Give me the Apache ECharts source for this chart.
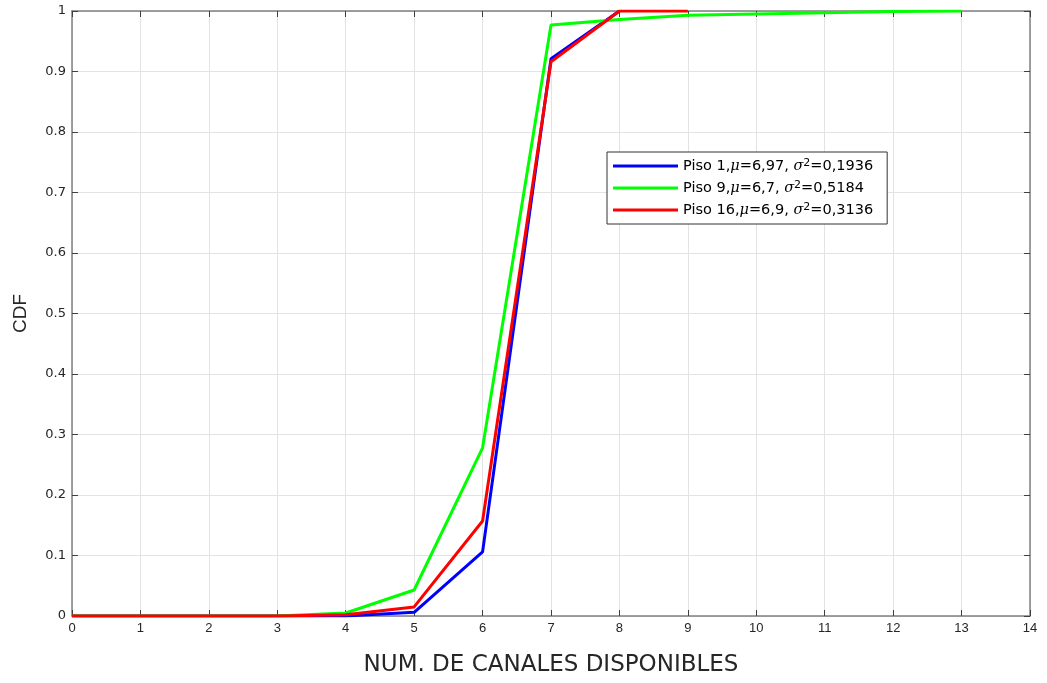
<!DOCTYPE html>
<html>
<head>
<meta charset="utf-8">
<script src="https://cdn.jsdelivr.net/npm/echarts@6/dist/echarts.min.js"></script>
<style>
html, body { margin: 0; padding: 0; background: #fff; }
#cdf { width: 1047px; height: 683px; }
</style>
</head>
<body>
<div id="cdf"></div>
<script>
// canales disponibles
var canales = [0, 1, 2, 3, 4, 5, 6, 7, 8, 9, 10, 11, 12, 13];
var piso1 = [0, 0, 0, 0, 0, 0.006, 0.106, 0.921, 1.0];
var piso9 = [0, 0, 0, 0, 0.005, 0.043, 0.278, 0.977, 0.986, 0.993, 0.995, 0.997, 0.999, 1.0];
var piso16 = [0, 0, 0, 0, 0.002, 0.015, 0.157, 0.916, 1.0, 1.0];
var nombres = ['Piso 1', 'Piso 9', 'Piso 16'];
var mus = ['6,97', '6,7', '6,9'];
var sigmas = ['0,1936', '0,5184', '0,3136'];
var colores = ['#0000ff', '#00ff00', '#ff0000'];

function pares(vals) {
    var res = [];
    for (var i = 0; i < vals.length; i++) {
        res.push([canales[i], vals[i]]);
    }
    return res;
}

var serieVals = [piso1, piso9, piso16];
var series = [];
for (var k = 0; k < 3; k++) {
    series.push({
        name: nombres[k],
        type: 'line',
        data: pares(serieVals[k]),
        color: colores[k],
        showSymbol: false,
        symbol: 'none',
        lineStyle: { width: 3 },
        xAxisIndex: 0,
        yAxisIndex: 0
    });
}

var chart = echarts.init(document.getElementById('cdf'));
var txtColor = '#262626';
var tickStyle = { show: true, inside: true, length: 6, lineStyle: { color: '#404040' } };
var lineStyleAx = { show: true, onZero: false, lineStyle: { color: '#808080', width: 1.5 } };
var option = {
    backgroundColor: '#fff',
    animation: false,
    grid: { left: 72, right: 17, top: 11, bottom: 67, containLabel: false, outerBoundsMode: 'none' },
    legend: {
        left: 607,
        top: 152,
        orient: 'vertical',
        itemWidth: 65,
        itemHeight: 3,
        itemGap: 6,
        padding: [6, 14, 6, 6],
        borderColor: '#333',
        borderWidth: 1,
        backgroundColor: '#fff',
        icon: 'rect',
        data: nombres,
        formatter: function (name) {
            var i = nombres.indexOf(name);
            return name + ',{it|\u03bc}=' + mus[i] + ', {it|\u03c3}{sup|2}=' + sigmas[i];
        },
        textStyle: {
            fontFamily: 'DejaVu Sans, sans-serif',
            fontSize: 14.5,
            lineHeight: 16,
            color: '#000',
            rich: {
                it: { fontStyle: 'italic', fontSize: 14.5, fontFamily: 'DejaVu Serif, serif', color: '#000' },
                sup: { fontSize: 11, verticalAlign: 'top', padding: [0, 0, 8, 0], fontFamily: 'DejaVu Sans, sans-serif', color: '#000' }
            }
        }
    },
    xAxis: [{
        type: 'value',
        min: 0,
        max: 14,
        interval: 1,
        name: 'NUM. DE CANALES DISPONIBLES',
        nameLocation: 'middle',
        nameGap: 38,
        nameTextStyle: { fontSize: 23, color: txtColor, fontFamily: 'DejaVu Sans, sans-serif' },
        axisLine: lineStyleAx,
        axisTick: tickStyle,
        axisLabel: { fontSize: 13, color: txtColor, margin: 6, fontFamily: 'Liberation Sans Narrow, Liberation Sans, Arial, sans-serif' },
        splitLine: { show: true, lineStyle: { color: '#e3e3e3', width: 1 } }
    }, {
        type: 'value',
        position: 'top',
        min: 0,
        max: 14,
        interval: 1,
        axisLine: lineStyleAx,
        axisTick: tickStyle,
        axisLabel: { show: false },
        splitLine: { show: false }
    }],
    yAxis: [{
        type: 'value',
        min: 0,
        max: 1,
        interval: 0.1,
        name: 'CDF',
        nameLocation: 'middle',
        nameGap: 42,
        nameTextStyle: { fontSize: 19, color: txtColor, fontFamily: 'Liberation Sans Narrow, Liberation Sans, Arial, sans-serif' },
        axisLine: lineStyleAx,
        axisTick: tickStyle,
        axisLabel: {
            fontSize: 13,
            color: txtColor,
            margin: 6,
            fontFamily: 'DejaVu Sans, sans-serif',
            formatter: function (v) {
                if (v === 0 || v === 1) return String(v);
                return v.toFixed(1);
            }
        },
        splitLine: { show: true, lineStyle: { color: '#e3e3e3', width: 1 } }
    }, {
        type: 'value',
        position: 'right',
        min: 0,
        max: 1,
        interval: 0.1,
        axisLine: lineStyleAx,
        axisTick: tickStyle,
        axisLabel: { show: false },
        splitLine: { show: false }
    }],
    series: series
};
chart.setOption(option);
</script>
</body>
</html>
